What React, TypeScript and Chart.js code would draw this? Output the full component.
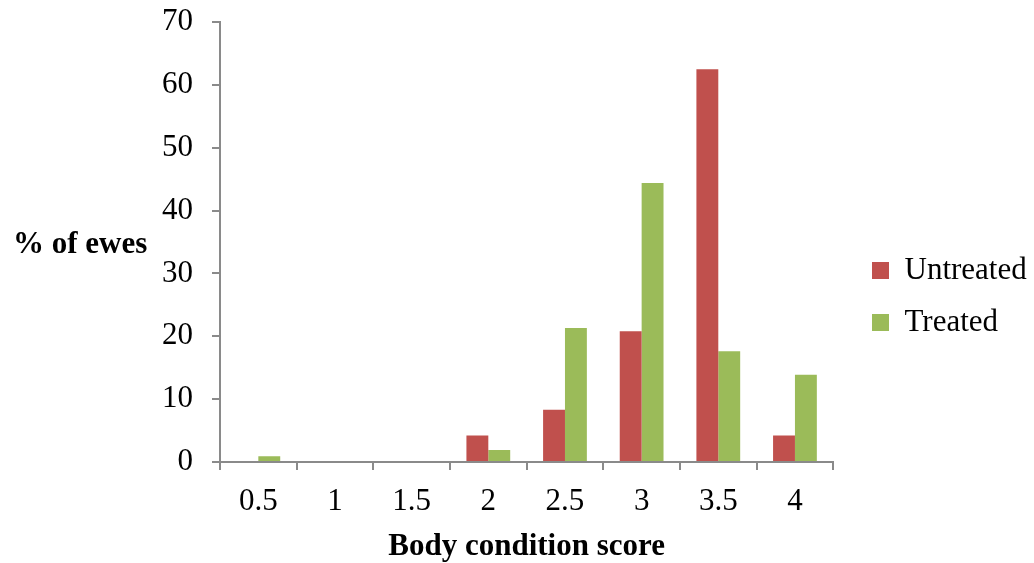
import React, { useEffect, useRef } from "react";
import { Chart, registerables } from "chart.js";

Chart.register(...registerables);

const categories = ["0.5", "1", "1.5", "2", "2.5", "3", "3.5", "4"];
const untreatedValues = [0, 0, 0, 4.2, 8.3, 20.8, 62.5, 4.2];
const treatedValues = [0.9, 0, 0, 1.9, 21.3, 44.4, 17.6, 13.9];
const seriesNames = ["Untreated", "Treated"];
const yTickValues = [0, 10, 20, 30, 40, 50, 60, 70];
const yAxisTitle = "% of ewes";
const xAxisTitle = "Body condition score";

const FONT = "'Liberation Serif', 'Times New Roman', serif";
const AXIS_GRAY = "#8a8a8a";

const yTitlePlugin = {
  id: "yTitleHorizontal",
  afterDraw(chart: any) {
    const ctx = chart.ctx;
    ctx.save();
    ctx.font = `bold 31px ${FONT}`;
    ctx.fillStyle = "#000";
    ctx.textAlign = "left";
    ctx.textBaseline = "alphabetic";
    ctx.fillText(yAxisTitle, 13, 253);
    ctx.restore();
  },
};

const legendShiftPlugin = {
  id: "legendShift",
  afterLayout(chart: any) {
    const lg = chart.legend;
    if (!lg) return;
    const dx = 872 - (lg.left + 21);
    lg.left += dx;
    lg.right += dx;
    lg.top += 4;
    lg.bottom += 4;
  },
};

export default function App() {
  const ref = useRef<HTMLCanvasElement | null>(null);

  useEffect(() => {
    if (!ref.current) return;
    const chart = new Chart(ref.current, {
      type: "bar",
      data: {
        labels: categories,
        datasets: [
          {
            label: seriesNames[0],
            data: untreatedValues,
            backgroundColor: "#C0504D",
            borderWidth: 0,
            categoryPercentage: 0.571,
            barPercentage: 1.0,
          },
          {
            label: seriesNames[1],
            data: treatedValues,
            backgroundColor: "#9BBB59",
            borderWidth: 0,
            categoryPercentage: 0.571,
            barPercentage: 1.0,
          },
        ],
      },
      options: {
        animation: false,
        responsive: false,
        maintainAspectRatio: false,
        events: [],
        layout: { padding: { top: 22, right: 15, bottom: 0, left: 0 } },
        plugins: {
          tooltip: { enabled: false },
          title: { display: false },
          legend: {
            display: true,
            position: "right",
            align: "center",
            labels: {
              font: { family: FONT, size: 31 },
              color: "#000",
              boxWidth: 17,
              boxHeight: 17,
              padding: 21,
            },
          },
        },
        scales: {
          x: {
            type: "category",
            offset: true,
            afterFit: (s: any) => {
              s.height = 101;
            },
            border: { display: true, color: AXIS_GRAY, width: 2 },
            grid: {
              display: true,
              offset: true,
              drawOnChartArea: false,
              drawTicks: true,
              tickLength: 8,
              color: AXIS_GRAY,
              lineWidth: 2,
            },
            ticks: {
              font: { family: FONT, size: 31 },
              color: "#000",
              padding: 13,
              maxRotation: 0,
              autoSkip: false,
            },
            title: {
              display: true,
              text: xAxisTitle,
              font: { family: FONT, size: 31, weight: "bold" },
              color: "#000",
              padding: { top: 0, bottom: -3 },
            },
          },
          y: {
            min: 0,
            max: 70,
            afterFit: (s: any) => {
              s.width = 220;
              s.paddingTop = 0;
              s.paddingBottom = 0;
            },
            afterBuildTicks: (s: any) => {
              s.ticks = yTickValues.map((v) => ({ value: v }));
            },
            border: { display: true, color: AXIS_GRAY, width: 2 },
            grid: {
              display: true,
              drawOnChartArea: false,
              drawTicks: true,
              tickLength: 8,
              color: AXIS_GRAY,
              lineWidth: 2,
            },
            ticks: {
              font: { family: FONT, size: 31 },
              color: "#000",
              padding: 19,
            },
          },
        },
      },
      plugins: [yTitlePlugin, legendShiftPlugin],
    });
    return () => chart.destroy();
  }, []);

  return (
    <div style={{ position: "fixed", left: 0, top: 0, width: 1034, height: 563, background: "#fff" }}>
      <canvas ref={ref} width={1034} height={563} style={{ width: 1034, height: 563, display: "block" }} />
    </div>
  );
}
